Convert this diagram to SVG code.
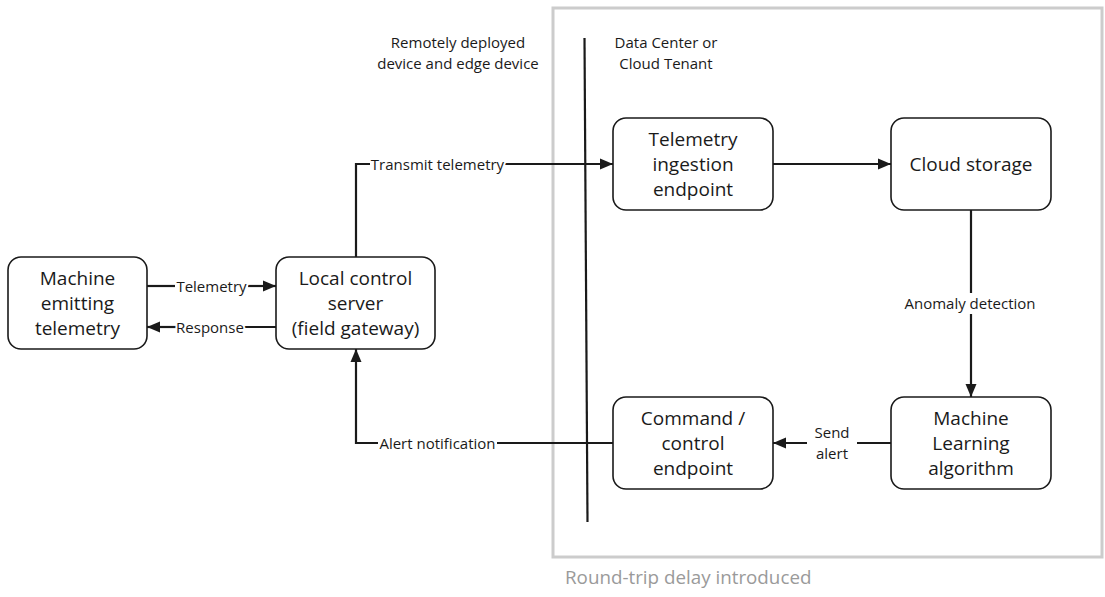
<svg xmlns="http://www.w3.org/2000/svg" width="1105" height="597" viewBox="0 0 1105 597">
<style>
  .box { fill: #ffffff; stroke: #1a1a1a; stroke-width: 1.6; }
  .bt { font-family: "Open Sans", "Liberation Sans", sans-serif; font-size: 19px; fill: #1a1a1a; text-anchor: middle; dominant-baseline: central; }
  .lbl { font-family: "Open Sans", "Liberation Sans", sans-serif; font-size: 15px; fill: #1a1a1a; dominant-baseline: central; text-anchor: middle; }
  .halo { stroke: #ffffff; stroke-width: 4; paint-order: stroke; stroke-linejoin: round; }
  .conn { fill: none; stroke: #1a1a1a; stroke-width: 2.2; }
</style>
<defs>
  <marker id="ah" markerUnits="userSpaceOnUse" markerWidth="14" markerHeight="14" viewBox="0 0 14 14" refX="13" refY="7" orient="auto">
    <path d="M0,1.5 L13,7 L0,12.5 Z" fill="#1a1a1a"/>
  </marker>
</defs>
<rect width="1105" height="597" fill="#ffffff"/>

<g id="zone">
  <rect x="553" y="8" width="549" height="549" fill="none" stroke="#cccccc" stroke-width="3"/>
  <line x1="584.5" y1="38" x2="587.5" y2="522" stroke="#1a1a1a" stroke-width="2.2"/>
  <text class="lbl" x="458" y="42">Remotely deployed</text>
  <text class="lbl" x="458" y="63">device and edge device</text>
  <text class="lbl" x="666" y="42">Data Center or</text>
  <text class="lbl" x="666" y="63">Cloud Tenant</text>
  <text x="565" y="584" font-family="'Open Sans', 'Liberation Sans', sans-serif" font-size="18.8" fill="#9a9a9a">Round-trip delay introduced</text>
</g>

<g id="connectors">
  <line class="conn" x1="147" y1="286" x2="175" y2="286"/>
  <line class="conn" x1="248" y1="286" x2="276" y2="286" marker-end="url(#ah)"/>
  <text class="lbl halo" x="211.5" y="286">Telemetry</text>

  <line class="conn" x1="276" y1="327" x2="243" y2="327"/>
  <line class="conn" x1="177" y1="327" x2="147" y2="327" marker-end="url(#ah)"/>
  <text class="lbl halo" x="210" y="327">Response</text>

  <path class="conn" d="M356,257 V164 H370"/>
  <line class="conn" x1="505" y1="164" x2="613" y2="164" marker-end="url(#ah)"/>
  <text class="lbl halo" x="437.5" y="164">Transmit telemetry</text>

  <line class="conn" x1="773" y1="164" x2="891" y2="164" marker-end="url(#ah)"/>

  <line class="conn" x1="971" y1="210" x2="971" y2="293"/>
  <line class="conn" x1="971" y1="314" x2="971" y2="397" marker-end="url(#ah)"/>
  <text class="lbl" x="970" y="303">Anomaly detection</text>

  <line class="conn" x1="891" y1="443" x2="857" y2="443"/>
  <line class="conn" x1="807" y1="443" x2="773" y2="443" marker-end="url(#ah)"/>
  <text class="lbl" x="832" y="432">Send</text>
  <text class="lbl" x="832" y="453">alert</text>

  <line class="conn" x1="613" y1="443" x2="497" y2="443"/>
  <path class="conn" d="M378,443 H356 V349" marker-end="url(#ah)"/>
  <text class="lbl halo" x="437.5" y="443">Alert notification</text>
</g>

<g id="machine">
  <rect class="box" x="8" y="257" width="139" height="92" rx="13"/>
  <text class="bt" x="77.5" y="278">Machine</text>
  <text class="bt" x="77.5" y="303">emitting</text>
  <text class="bt" x="77.5" y="328">telemetry</text>
</g>

<g id="local-control">
  <rect class="box" x="276" y="257" width="159" height="92" rx="13"/>
  <text class="bt" x="355.5" y="278">Local control</text>
  <text class="bt" x="355.5" y="303">server</text>
  <text class="bt" x="355.5" y="328">(field gateway)</text>
</g>

<g id="ingestion">
  <rect class="box" x="613" y="118" width="160" height="92" rx="13"/>
  <text class="bt" x="693" y="139">Telemetry</text>
  <text class="bt" x="693" y="164">ingestion</text>
  <text class="bt" x="693" y="189">endpoint</text>
</g>

<g id="cloud-storage">
  <rect class="box" x="891" y="118" width="160" height="92" rx="13"/>
  <text class="bt" x="971" y="164">Cloud storage</text>
</g>

<g id="command">
  <rect class="box" x="613" y="397" width="160" height="92" rx="13"/>
  <text class="bt" x="693" y="418">Command /</text>
  <text class="bt" x="693" y="443">control</text>
  <text class="bt" x="693" y="468">endpoint</text>
</g>

<g id="ml">
  <rect class="box" x="891" y="397" width="160" height="92" rx="13"/>
  <text class="bt" x="971" y="418">Machine</text>
  <text class="bt" x="971" y="443">Learning</text>
  <text class="bt" x="971" y="468">algorithm</text>
</g>
</svg>
